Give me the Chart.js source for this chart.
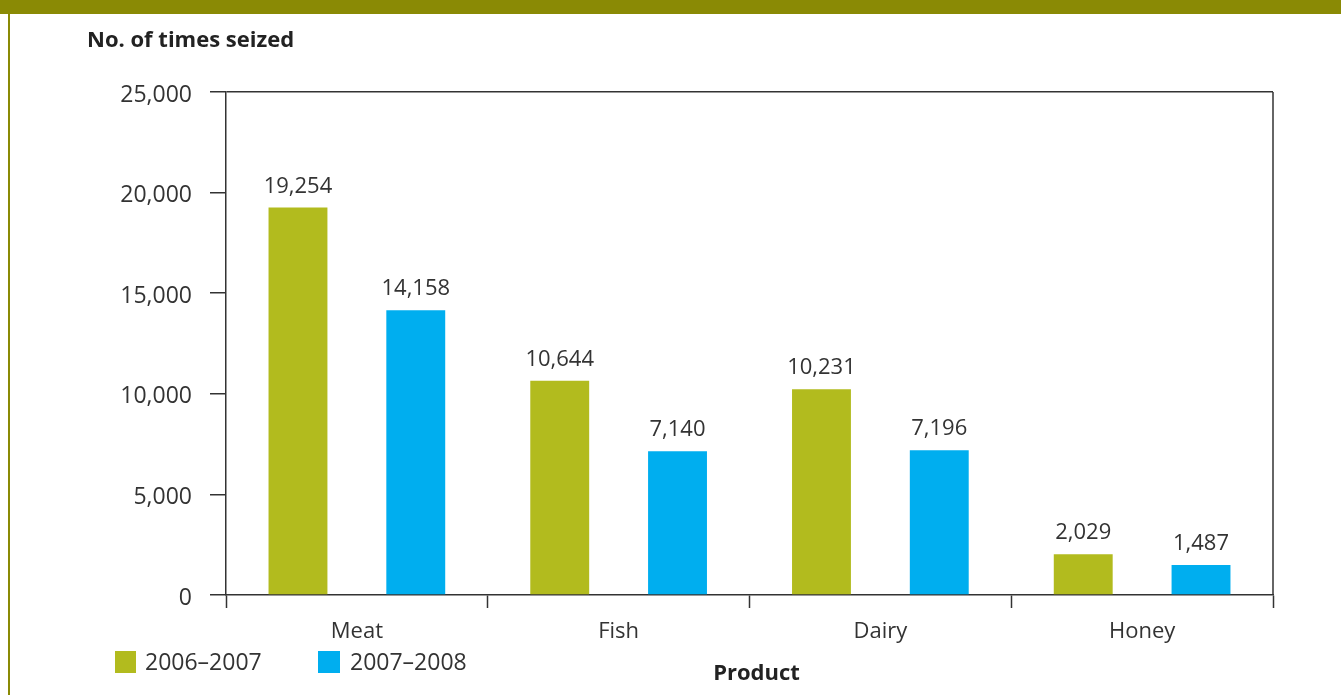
<!DOCTYPE html>
<html>
<head>
<meta charset="utf-8">
<script src="https://cdn.jsdelivr.net/npm/chart.js@4.4.0/dist/chart.umd.min.js"></script>
<style>
html,body{margin:0;padding:0;background:#fff;}
#wrap{position:relative;width:1341px;height:695px;}
</style>
</head>
<body>
<div id="wrap"><canvas id="c" width="1341" height="695"></canvas></div>
<script>
const categories = ['Meat', 'Fish', 'Dairy', 'Honey'];
const series1Label = '2006–2007';
const series2Label = '2007–2008';
const series1Values = [19254, 10644, 10231, 2029];
const series2Values = [14158, 7140, 7196, 1487];
const yTicks = [0, 5000, 10000, 15000, 20000, 25000];
const yTitle = 'No. of times seized';
const xTitle = 'Product';

const GREEN = '#b2bb1e';
const BLUE = '#00aeef';
const OLIVE = '#8a8a05';
const AXIS = '#333333';
const FONT = "'Open Sans', 'Noto Sans', sans-serif";

const fmt = v => v.toLocaleString('en-US');

const decor = {
  id: 'decor',
  beforeDraw(chart) {
    const ctx = chart.ctx;
    ctx.save();
    ctx.fillStyle = '#fff';
    ctx.fillRect(0, 0, chart.width, chart.height);
    ctx.fillStyle = OLIVE;
    ctx.fillRect(0, 0, chart.width, 14);
    ctx.fillRect(8, 14, 2, chart.height - 14);
    ctx.restore();
  },
  afterDraw(chart) {
    const ctx = chart.ctx;
    const a = chart.chartArea;
    ctx.save();
    // right border
    ctx.strokeStyle = AXIS;
    ctx.lineWidth = 1.5;
    ctx.beginPath();
    ctx.moveTo(a.right, a.top);
    ctx.lineTo(a.right, a.bottom);
    ctx.stroke();
    // value labels
    ctx.fillStyle = '#333';
    ctx.font = "22px " + FONT;
    ctx.textAlign = 'center';
    ctx.textBaseline = 'alphabetic';
    chart.data.datasets.forEach((ds, di) => {
      const meta = chart.getDatasetMeta(di);
      meta.data.forEach((bar, i) => {
        ctx.fillText(fmt(ds.data[i]), bar.x, bar.y - 15);
      });
    });
    // titles
    ctx.fillStyle = '#222';
    ctx.font = "bold 22px " + FONT;
    ctx.textAlign = 'left';
    ctx.textBaseline = 'middle';
    ctx.fillText(yTitle, 87, 41);
    ctx.textAlign = 'center';
    ctx.fillText(xTitle, (a.left + a.right) / 2 + 7, 674);
    // legend
    ctx.font = "23px " + FONT;
    ctx.textAlign = 'left';
    ctx.fillStyle = GREEN;
    ctx.fillRect(115, 651, 21, 22);
    ctx.fillStyle = BLUE;
    ctx.fillRect(318, 651, 22, 22);
    ctx.fillStyle = '#333';
    ctx.fillText(chart.data.datasets[0].label, 145, 663);
    ctx.fillText(chart.data.datasets[1].label, 350, 663);
    ctx.restore();
  }
};

new Chart(document.getElementById('c'), {
  type: 'bar',
  data: {
    labels: categories,
    datasets: [
      { label: series1Label, data: series1Values, backgroundColor: GREEN },
      { label: series2Label, data: series2Values, backgroundColor: BLUE }
    ]
  },
  options: {
    responsive: false,
    animation: false,
    devicePixelRatio: 1,
    layout: { padding: { left: 0, right: 68, top: 92, bottom: 0 } },
    categoryPercentage: 0.9,
    barPercentage: 0.5,
    plugins: { legend: { display: false }, tooltip: { enabled: false } },
    scales: {
      x: {
        offset: true,
        grid: {
          offset: true,
          drawOnChartArea: false,
          tickLength: 13,
          tickColor: AXIS,
          tickWidth: 1.5
        },
        border: { color: AXIS, width: 1.5 },
        ticks: { color: '#333', font: { family: FONT, size: 22 }, padding: 11 },
        afterFit(s) { s.height = 100; }
      },
      y: {
        min: 0, max: 25000,
        afterBuildTicks(s) { s.ticks = yTicks.map(v => ({ value: v })); },
        grid: {
          color: c => (c.tick && c.tick.value === 25000) ? AXIS : 'rgba(0,0,0,0)',
          lineWidth: 1.5,
          tickLength: 16,
          tickColor: AXIS,
          tickWidth: 1.5
        },
        border: { color: AXIS, width: 1.5 },
        ticks: { color: '#333', font: { family: FONT, size: 23 }, padding: 18, labelOffset: 3, callback: v => fmt(v) },
        afterFit(s) { s.width = 226; }
      }
    }
  },
  plugins: [decor]
});
</script>
</body>
</html>
